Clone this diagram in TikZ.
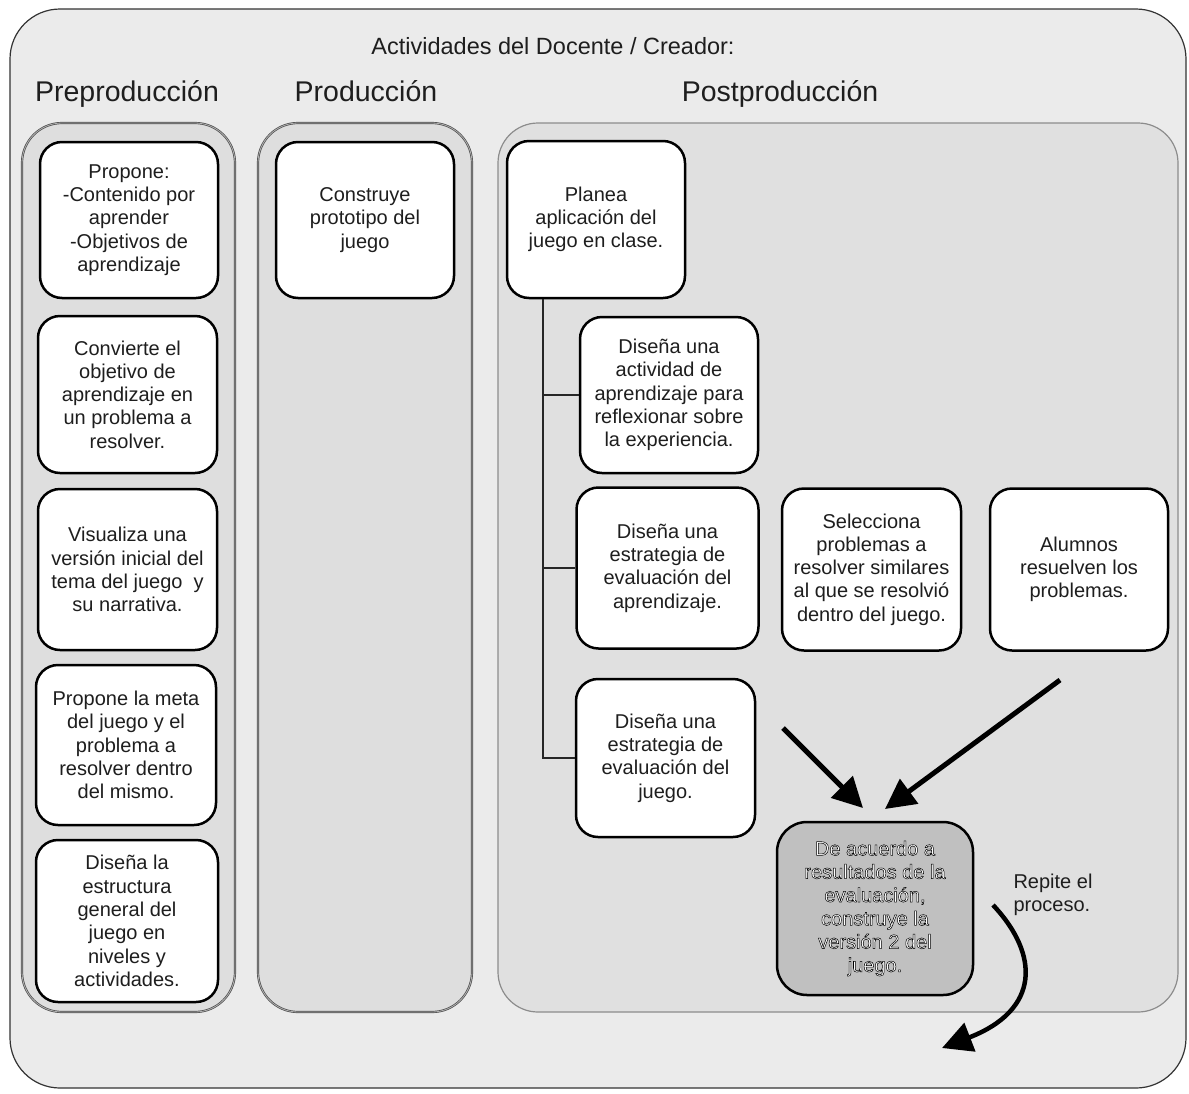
\documentclass[tikz,border=0pt]{standalone}
\usepackage{fontspec}
\setmainfont{Liberation Sans}
\usetikzlibrary{arrows.meta}
\definecolor{outerbg}{RGB}{235,235,235}
\definecolor{colbg}{RGB}{222,222,222}
\definecolor{postbg}{RGB}{224,224,224}
\definecolor{greybox}{RGB}{192,192,192}
\definecolor{txt}{RGB}{30,30,30}
\newcommand\outlon{\special{pdf:literal direct 2 Tr 0.5 w 0 G}}
\newcommand\outloff{\special{pdf:literal direct 0 Tr}}
\begin{document}
\begin{tikzpicture}[x=1pt,y=-1pt,
  every node/.style={text=txt},
  bodytext/.style={font=\fontsize{20}{23.3}\selectfont, align=center},
  card/.style={bodytext, draw=black, line width=2.5pt, fill=white, rounded corners=22pt, inner sep=2pt},
  column/.style={draw=black!70, double=black!30, double distance=0.8pt, line width=0.7pt, fill=colbg, rounded corners=40pt},
  postcol/.style={draw=black!45, line width=1.2pt, fill=postbg, rounded corners=40pt},
  heading/.style={font=\fontsize{28.5}{32}\selectfont, anchor=base},
  bigarrow/.style={line width=5pt, -{Triangle[length=30pt,width=30pt]}},
  tree/.style={line width=1.6pt, draw=black!85}
]
\useasboundingbox (0,0) rectangle (1189,1093);
% outer frame
\draw[draw=black!80, line width=1.2pt, fill=outerbg, rounded corners=50pt] (10,9) rectangle (1186,1088);
\node[font=\fontsize{23.5}{28}\selectfont, anchor=base] (title) at (553,54) {Actividades del Docente / Creador:};
\node[heading] (hpre) at (127,101) {Preproducción};
\node[heading] (hpro) at (366,101) {Producción};
\node[heading] (hpost) at (780,101) {Postproducción};
% columns
\draw[column] (22,123) rectangle (235,1012);
\draw[column] (258,123) rectangle (472,1012);
\draw[postcol] (498,123) rectangle (1178,1012);
% Preproduccion
\node[card, minimum width=178pt, minimum height=156pt] (p1) at (129,220) {Propone:\\-Contenido por\\aprender\\-Objetivos de\\aprendizaje};
\node[card, minimum width=179pt, minimum height=157pt] (p2) at (127.5,394.5) {Convierte el\\objetivo de\\aprendizaje en\\un problema a\\resolver.};
\node[card, minimum width=179pt, minimum height=161pt] (p3) at (127.5,569.5) {Visualiza una\\versión inicial del\\tema del juego\ \ y\\su narrativa.};
\node[card, minimum width=180pt, minimum height=160pt] (p4) at (126,745) {Propone la meta\\del juego y el\\problema a\\resolver dentro\\del mismo.};
\node[card, minimum width=182pt, minimum height=162pt] (p5) at (127,921) {Diseña la\\estructura\\general del\\juego en\\niveles y\\actividades.};
% Produccion
\node[card, minimum width=178pt, minimum height=156pt] (pr1) at (365,220) {Construye\\prototipo del\\juego};
% Postproduccion
\node[card, minimum width=178pt, minimum height=157pt] (planea) at (596,219.5) {Planea\\aplicación del\\juego en clase.};
\node[card, minimum width=178pt, minimum height=156pt] (act) at (669,395) {Diseña una\\actividad de\\aprendizaje para\\reflexionar sobre\\la experiencia.};
\node[card, minimum width=182pt, minimum height=161pt] (evap) at (667.5,568) {Diseña una\\estrategia de\\evaluación del\\aprendizaje.};
\node[card, minimum width=179pt, minimum height=162pt] (sel) at (871.5,569.5) {Selecciona\\problemas a\\resolver similares\\al que se resolvió\\dentro del juego.};
\node[card, minimum width=178pt, minimum height=162pt] (alum) at (1079,569.5) {Alumnos\\resuelven los\\problemas.};
\node[card, minimum width=179pt, minimum height=158pt] (evj) at (665.5,758) {Diseña una\\estrategia de\\evaluación del\\juego.};
\node[card, fill=greybox, rounded corners=30pt, minimum width=196pt, minimum height=173pt, text=white] (v2) at (875,908.5) {\outlon De acuerdo a\\resultados de la\\evaluación,\\construye la\\versión 2 del\\juego.\outloff};
% tree connector
\coordinate (trk) at (543,0);
\draw[tree] (trk |- planea.south) -- (trk |- evj.west) -- (evj.west);
\draw[tree] (trk |- act.west) -- (act.west);
\draw[tree] (trk |- evap.west) -- (evap.west);
% arrows
\coordinate (a1s) at (783,728);
\coordinate (a1e) at (863,808);
\coordinate (a2s) at (1060,680);
\coordinate (a2e) at (885,809);
\draw[bigarrow] (a1s) -- (a1e);
\draw[bigarrow] (a2s) -- (a2e);
\coordinate (c1s) at (993,905);
\coordinate (c1e) at (942,1048);
\draw[line width=4.5pt, -{Triangle[length=30pt,width=30pt]}] (c1s) .. controls (1040,955) and (1040,1010) .. (c1e);
\node[bodytext, align=left, anchor=west] (rep) at (1010,895) {Repite el\\proceso.};
\end{tikzpicture}
\end{document}
